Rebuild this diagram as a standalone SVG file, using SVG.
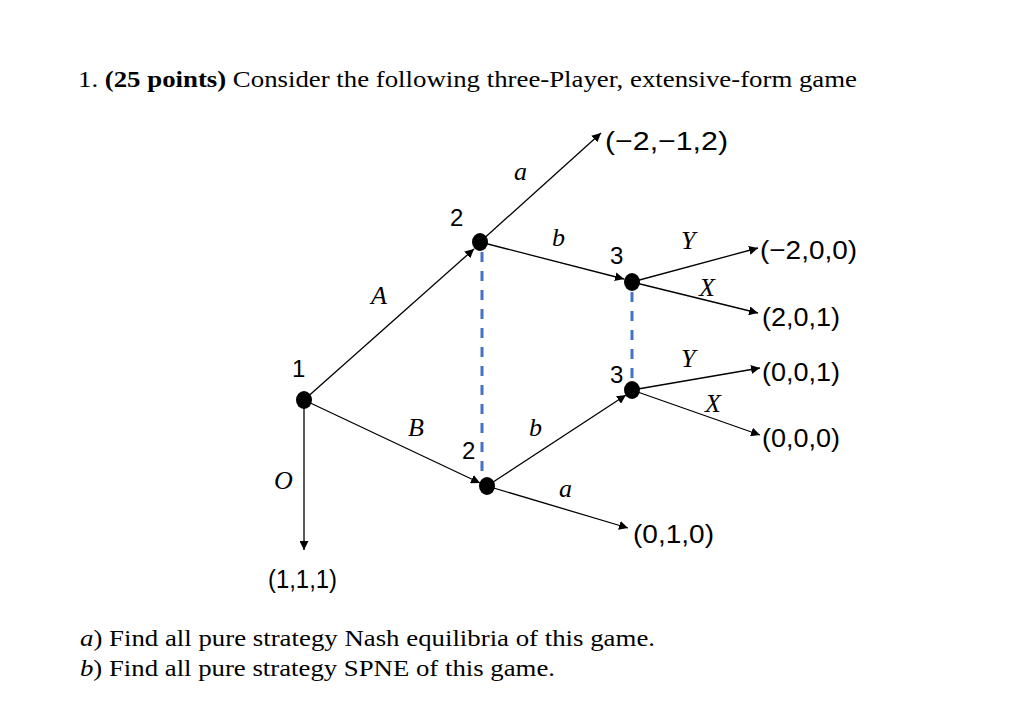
<svg xmlns="http://www.w3.org/2000/svg" width="1024" height="702" viewBox="0 0 1024 702">
<defs>
<marker id="ah" viewBox="0 0 10 10" refX="10" refY="5" markerWidth="9" markerHeight="9" markerUnits="userSpaceOnUse" orient="auto"><path d="M0,0 L10,5 L0,10 Z" fill="#000"/></marker>
<style>
.e{stroke:#000;stroke-width:1.3;fill:none;marker-end:url(#ah)}
.d{stroke:#4472C4;stroke-width:3;stroke-dasharray:10 9;fill:none}
.n{fill:#000}
.t{font-family:"Liberation Serif",serif;font-size:24px;fill:#000}
.l{font-family:"Liberation Sans",sans-serif;font-size:24px;fill:#000}
.p{font-family:"Liberation Sans",sans-serif;font-size:26px;fill:#000}
.i{font-family:"Liberation Serif",serif;font-style:italic;font-size:26px;fill:#000}
</style>
</defs>
<rect width="1024" height="702" fill="#fff"/>
<text class="t" x="78" y="87" textLength="779" lengthAdjust="spacingAndGlyphs">1. <tspan font-weight="bold">(25 points)</tspan> Consider the following three-Player, extensive-form game</text>
<g id="connectors">
<line class="e" x1="304" y1="400" x2="474" y2="249"/>
<line class="e" x1="304" y1="400" x2="480" y2="483"/>
<line class="e" x1="304" y1="400" x2="304" y2="550"/>
<line class="e" x1="480" y1="242" x2="601" y2="133"/>
<line class="e" x1="480" y1="242" x2="624" y2="279"/>
<line class="e" x1="487" y1="486" x2="626" y2="395"/>
<line class="e" x1="487" y1="486" x2="628" y2="528"/>
<line class="e" x1="632" y1="282" x2="758" y2="248"/>
<line class="e" x1="632" y1="282" x2="758" y2="313"/>
<line class="e" x1="632" y1="390" x2="760" y2="368"/>
<line class="e" x1="632" y1="390" x2="760" y2="435"/>
<line class="d" x1="482" y1="252" x2="482" y2="478"/>
<line class="d" x1="632" y1="292" x2="632" y2="384"/>
</g>
<g id="n1"><ellipse class="n" cx="304" cy="400" rx="8" ry="9"/><text class="l" x="292" y="377">1</text></g>
<g id="n2a"><ellipse class="n" cx="480" cy="242" rx="8" ry="9"/><text class="l" x="450" y="226">2</text></g>
<g id="n2b"><ellipse class="n" cx="487" cy="486" rx="8" ry="9"/><text class="l" x="462" y="459">2</text></g>
<g id="n3a"><ellipse class="n" cx="632" cy="282" rx="8" ry="9"/><text class="l" x="610" y="264">3</text></g>
<g id="n3b"><ellipse class="n" cx="632" cy="390" rx="8" ry="9"/><text class="l" x="610" y="383">3</text></g>
<g id="labels">
<text class="i" x="514" y="180">a</text>
<text class="i" x="552" y="246">b</text>
<text class="i" x="681" y="249">Y</text>
<text class="i" x="699" y="296">X</text>
<text class="i" x="371" y="304">A</text>
<text class="i" x="681" y="367">Y</text>
<text class="i" x="705" y="412">X</text>
<text class="i" x="408" y="436">B</text>
<text class="i" x="529" y="436">b</text>
<text class="i" x="559" y="497">a</text>
<text class="i" x="274" y="489">O</text>
</g>
<g id="payoffs">
<text class="p" x="605" y="150" textLength="123" lengthAdjust="spacingAndGlyphs">(−2,−1,2)</text>
<text class="p" x="760" y="259" textLength="97" lengthAdjust="spacingAndGlyphs">(−2,0,0)</text>
<text class="p" x="762" y="326" textLength="78" lengthAdjust="spacingAndGlyphs">(2,0,1)</text>
<text class="p" x="762" y="381" textLength="78" lengthAdjust="spacingAndGlyphs">(0,0,1)</text>
<text class="p" x="762" y="447" textLength="78" lengthAdjust="spacingAndGlyphs">(0,0,0)</text>
<text class="p" x="633" y="543" textLength="81" lengthAdjust="spacingAndGlyphs">(0,1,0)</text>
<text class="p" x="268" y="588" textLength="69" lengthAdjust="spacingAndGlyphs">(1,1,1)</text>
</g>
<text class="t" x="80" y="646" textLength="575" lengthAdjust="spacingAndGlyphs"><tspan font-style="italic">a</tspan>) Find all pure strategy Nash equilibria of this game.</text>
<text class="t" x="80" y="676" textLength="475" lengthAdjust="spacingAndGlyphs"><tspan font-style="italic">b</tspan>) Find all pure strategy SPNE of this game.</text>
</svg>
